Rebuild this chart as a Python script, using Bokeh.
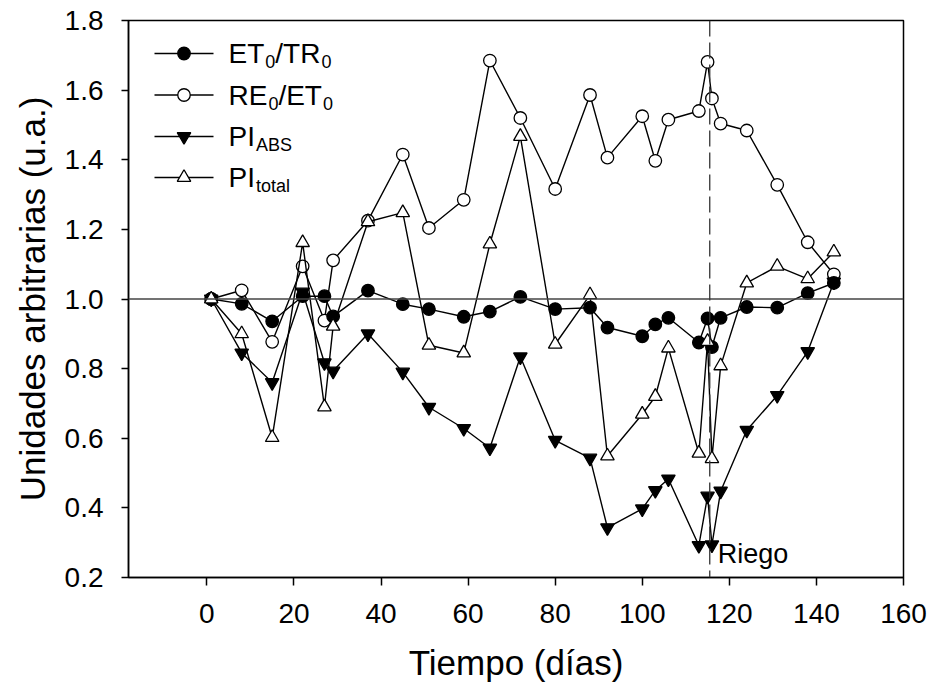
from bokeh.plotting import figure
from bokeh.models import Range1d, FixedTicker, Span, Label, PrintfTickFormatter
from bokeh.embed import file_html
from bokeh.resources import INLINE
from bokeh.core.properties import value

# ---------------- data ----------------
dias = [1, 8, 15, 22, 27, 29, 37, 45, 51, 59, 65, 72, 80, 88, 92, 100,
        103, 106, 113, 115, 116, 118, 124, 131, 138, 144]
et0_tr0 = [1.00, 0.986, 0.936, 1.008, 1.008, 0.950, 1.024, 0.985, 0.971, 0.949,
           0.964, 1.006, 0.971, 0.975, 0.918, 0.893, 0.927, 0.946, 0.875, 0.944,
           0.862, 0.946, 0.977, 0.975, 1.017, 1.046]
re0_et0 = [1.00, 1.025, 0.877, 1.094, 0.938, 1.111, 1.225, 1.415, 1.204, 1.285,
           1.685, 1.520, 1.316, 1.586, 1.406, 1.525, 1.397, 1.515, 1.540, 1.681,
           1.576, 1.504, 1.484, 1.328, 1.163, 1.071]
pi_abs = [1.00, 0.845, 0.760, 1.020, 0.817, 0.793, 0.900, 0.790, 0.689, 0.628,
          0.572, 0.834, 0.594, 0.543, 0.343, 0.397, 0.450, 0.483, 0.292, 0.434,
          0.294, 0.448, 0.623, 0.723, 0.849, 1.049]
pi_total = [1.00, 0.900, 0.602, 1.162, 0.690, 0.922, 1.222, 1.248, 0.867, 0.845,
            1.158, 1.467, 0.870, 1.012, 0.549, 0.669, 0.720, 0.859, 0.557, 0.878,
            0.541, 0.808, 1.046, 1.094, 1.058, 1.135]
x_ticks = [0, 20, 40, 60, 80, 100, 120, 140, 160]
y_ticks = [0.2, 0.4, 0.6, 0.8, 1.0, 1.2, 1.4, 1.6, 1.8]
dia_riego = 115.5
referencia = 1.0

FONT = "Liberation Sans"

FW, FH = 775, 557  # frame size in px, used for the hand-made legend

p = figure(width=930, height=694, output_backend="svg", toolbar_location=None,
           x_range=Range1d(-18, 160), y_range=Range1d(0.2, 1.8),
           min_border_left=128, min_border_right=27, min_border_top=20,
           min_border_bottom=117)
p.extra_x_ranges = {"px": Range1d(0, FW)}
p.extra_y_ranges = {"px": Range1d(FH, 0)}

p.grid.visible = False
p.outline_line_color = "black"
p.outline_line_width = 1.5
p.background_fill_color = "white"
p.border_fill_color = "white"

for ax in (p.xaxis[0], p.yaxis[0]):
    ax.axis_line_width = 1.5
    ax.axis_line_color = "black"
    ax.major_tick_line_width = 1.5
    ax.major_tick_in = 0
    ax.minor_tick_line_color = None
    ax.major_label_text_font = FONT
    ax.major_label_text_font_size = "28px"
    ax.major_label_text_color = "black"
    ax.axis_label_text_font = FONT
    ax.axis_label_text_font_size = "35px"
    ax.axis_label_text_font_style = "normal"
    ax.axis_label_text_color = "black"

p.xaxis.ticker = FixedTicker(ticks=x_ticks)
p.yaxis.ticker = FixedTicker(ticks=y_ticks)
p.xaxis.formatter = PrintfTickFormatter(format="%d")
p.yaxis.formatter = PrintfTickFormatter(format="%.1f")
p.xaxis.major_tick_out = 8
p.yaxis.major_tick_out = 7
p.xaxis.major_label_standoff = 18
p.yaxis.major_label_standoff = 18
p.xaxis.axis_label = "Tiempo (días)"
p.yaxis.axis_label = "Unidades arbitrarias (u.a.)"
p.xaxis.axis_label_standoff = 17
p.yaxis.axis_label_standoff = 10

# reference line and irrigation line
p.add_layout(Span(location=referencia, dimension="width", line_color="#444444",
                  line_width=1.5))
p.add_layout(Span(location=dia_riego, dimension="height", line_color="#333333",
                  line_width=1.3, line_dash="16 6"))
p.add_layout(Label(x=dia_riego, y=0.2, x_offset=8, y_offset=9, text="Riego",
                   text_font=FONT, text_font_size="27px", text_color="black",
                   text_baseline="bottom"))

LW = 1.4
series = [
    (re0_et0, "circle", "white", 12.5),
    (et0_tr0, "circle", "black", 12.5),
    (pi_abs, "inverted_triangle", "black", 13.5),
    (pi_total, "triangle", "white", 13.5),
]
for ys, mk, fill, sz in series:
    p.line(dias, ys, line_color="black", line_width=LW)
    p.scatter(dias, ys, marker=mk, size=sz, fill_color=fill, line_color="black",
              line_width=1.3)

# ---------------- hand-made legend (pixel units inside the frame) ----------
leg_rows = [33, 74.5, 116, 157]
leg_marks = [("circle", "black", 12.5), ("circle", "white", 12.5),
             ("inverted_triangle", "black", 13.5), ("triangle", "white", 13.5)]
for yy, (mk, fill, sz) in zip(leg_rows, leg_marks):
    p.line([26, 85], [yy, yy], line_color="black", line_width=LW,
           x_range_name="px", y_range_name="px")
    p.scatter([55.5], [yy], marker=mk, size=sz, fill_color=fill,
              line_color="black", line_width=1.3,
              x_range_name="px", y_range_name="px")

MAIN = 28
SUB = 18
def w(s, size):
    adv = {"E": .667, "T": .611, "R": .722, "P": .667, "I": .278, "/": .278,
           "0": .556, "A": .667, "B": .667, "S": .667, "t": .278, "o": .556,
           "a": .556, "l": .222}
    return sum(adv[c] for c in s) * size

legend_texts = [
    [("ET", 0), ("0", 1), ("/TR", 0), ("0", 1)],
    [("RE", 0), ("0", 1), ("/ET", 0), ("0", 1)],
    [("PI", 0), ("ABS", 1)],
    [("PI", 0), ("total", 1)],
]
x0 = 100
tx, ty, tt = [], [], []
sx, sy, st = [], [], []
for yy, parts in zip(leg_rows, legend_texts):
    cx = x0
    for txt, is_sub in parts:
        if is_sub:
            sx.append(cx + 1); sy.append(yy + 8); st.append(txt)
            cx += w(txt, SUB) + 1
        else:
            tx.append(cx); ty.append(yy); tt.append(txt)
            cx += w(txt, MAIN)
p.text(tx, ty, text=tt, text_font=value(FONT), text_font_size="28px",
       text_baseline="middle", text_color="black",
       x_range_name="px", y_range_name="px")
p.text(sx, sy, text=st, text_font=value(FONT), text_font_size="18px",
       text_baseline="middle", text_color="black",
       x_range_name="px", y_range_name="px")

open("out.html", "w").write(file_html(p, INLINE))
